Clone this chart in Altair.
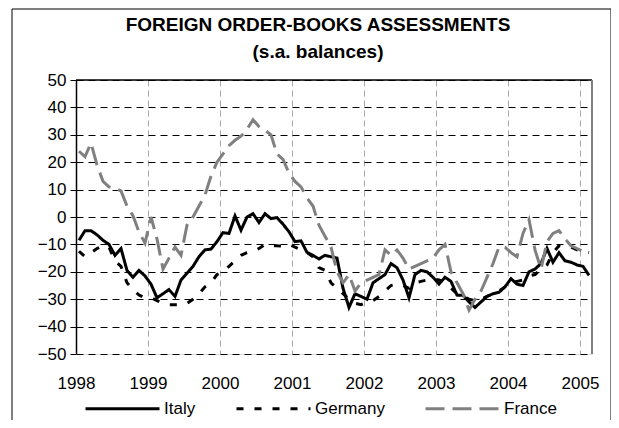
import altair as alt
import pandas as pd

series = ["Italy", "Germany", "France"]
year_ticks = [1998, 1999, 2000, 2001, 2002, 2003, 2004, 2005]
y_ticks = [-50, -40, -30, -20, -10, 0, 10, 20, 30, 40, 50]

# monthly balances, Jan 1998 - Feb 2005
italy = [-8.5, -5, -5, -6.5, -8.5, -10, -14, -11.5, -19.5, -22, -19.5, -21.5,
         -24.5, -29.5, -28, -26.5, -29, -23, -20.5, -18, -14.5, -12, -11.7, -9,
         -5.7, -6, 0.4, -4.8, 0, 1.2, -2, 1.2, -0.6, -0.2, -2.6, -5.4,
         -9, -8.7, -12.9, -14, -15.3, -14, -14.5, -15, -26, -33, -28, -29,
         -30, -24, -22.5, -21, -17, -18.5, -23, -29.5, -21, -19.5, -20, -22,
         -24.5, -22, -23.5, -28.5, -28.6, -31, -33, -31, -29, -28, -27.5, -25.5,
         -22.5, -24.5, -25, -20, -19, -17, -11.5, -16.5, -13, -16, -16.5, -17.5,
         -18, -21.3]
germany = [-12.5, -14.5, -13, -11.5, -10.5, -11, -16, -18, -24, -26.5, -28.5, -29.5,
           -29.5, -30.5, -31.5, -32, -32, -32, -31.5, -30, -28, -25.5, -24, -21,
           -20, -18, -16, -14, -13, -12.5, -11.5, -10, -10.5, -10.5, -10.7, -10,
           -11, -12, -13, -14.5, -18.5, -19.5, -24, -26, -28, -30, -31.5, -32,
           -31, -30.5, -29, -27, -25, -24.5, -25, -26, -24, -23.5, -23, -22.5,
           -23, -24, -26, -28, -29, -30, -30.5, -30, -29, -28, -27, -25.5,
           -24, -23.5, -23, -21.5, -21, -19, -17.5, -13, -10.5, -11, -11, -12,
           -12.5, -13]
france = [24, 22, 27, 19, 13, 11, 10.5, 9.5, 4, 0.5, -5.5, -9.5,
          0, -8, -19, -15, -11, -14, -3, 0, 4, 8, 15, 20,
          23, 26, 28, 29.5, 32, 35.5, 33, 31.7, 30, 23, 21, 16,
          13, 11, 7, 4, -3, -7, -11, -20, -24, -21, -27, -24,
          -23, -22, -21, -12, -14, -12, -15, -19, -18, -17, -16, -15,
          -12, -10, -20, -24, -28, -34, -30, -27, -22, -17, -11, -11,
          -13, -14.5, -6, -1, -12, -19, -9, -6, -5, -8, -10.5, -11.5,
          -12.5, -12.5]

n = len(italy)
rows = []
for name, vals in zip(series, [italy, germany, france]):
    for i, v in enumerate(vals):
        rows.append({"t": 1998 + (i + 0.5) / 12, "v": v, "series": name, "idx": i})
df = pd.DataFrame(rows)
one = pd.DataFrame({"a": [0]})

FONT = "Liberation Sans"
W, H = 516, 274

x_scale = alt.Scale(domain=[1998, 1998 + n / 12], nice=False, zero=False)
y_scale = alt.Scale(domain=[-50, 50], nice=False, zero=False)

leg = alt.Legend(title=None, orient="none", legendX=8, legendY=290,
                 direction="horizontal", columns=3, symbolType="stroke",
                 symbolSize=5476, symbolStrokeWidth=3, labelFontSize=17,
                 labelFont=FONT, labelColor="black", columnPadding=34,
                 labelOffset=3, padding=0)

lines = alt.Chart(df).mark_line(strokeWidth=3, clip=True).encode(
    x=alt.X("t:Q", scale=x_scale,
            axis=alt.Axis(values=year_ticks, format="d", title=None, grid=True,
                          gridColor="#a6a6a6", gridDash=[6, 4], gridWidth=1,
                          ticks=False, domain=False, labelFontSize=17,
                          labelFont=FONT, labelColor="black", labelPadding=21,
                          labelFlush=False, labelOverlap=False)),
    y=alt.Y("v:Q", scale=y_scale,
            axis=alt.Axis(values=y_ticks, title=None, grid=True,
                          gridColor="black", gridDash=[7, 5], gridWidth=1,
                          tickColor="black", tickSize=6, domainColor="black",
                          domainWidth=1.5, labelFontSize=17, labelFont=FONT,
                          labelColor="black", labelPadding=4,
                          labelOverlap=False)),
    color=alt.Color("series:N",
                    scale=alt.Scale(domain=series, range=["#000000", "#000000", "#808080"]),
                    legend=leg),
    strokeDash=alt.StrokeDash("series:N",
                              scale=alt.Scale(domain=series, range=[[1, 0], [7, 11], [19, 8]]),
                              legend=leg),
    order=alt.Order("idx:Q"),
)

top_rule = alt.Chart(one).mark_rule(color="black", strokeWidth=1.5).encode(
    x=alt.value(0), x2=alt.value(W), y=alt.value(0))
right_rule = alt.Chart(one).mark_rule(color="#808080", strokeWidth=2).encode(
    x=alt.value(W), y=alt.value(0), y2=alt.value(H))
frame = alt.Chart(one).mark_rect(fillOpacity=0, stroke="black", strokeWidth=1, clip=False).encode(
    x=alt.value(-64), x2=alt.value(535), y=alt.value(-71), y2=alt.value(370))

chart = alt.layer(frame, lines, top_rule, right_rule).properties(
    width=W, height=H,
    title=alt.TitleParams(text="FOREIGN ORDER-BOOKS ASSESSMENTS",
                          subtitle="(s.a. balances)", font=FONT, fontSize=19,
                          fontWeight="bold", subtitleFont=FONT, subtitleFontSize=19,
                          subtitleFontWeight="bold", subtitleColor="black",
                          color="black", anchor="middle", dx=-16, offset=0, dy=53,
                          subtitlePadding=8),
    autosize=alt.AutoSizeParams(type="none"),
    padding={"left": 68, "top": 72, "right": 19, "bottom": 66},
).configure_view(stroke=None).configure(background="white")

chart.save("out.html", embed_options={"renderer": "svg", "actions": False})
